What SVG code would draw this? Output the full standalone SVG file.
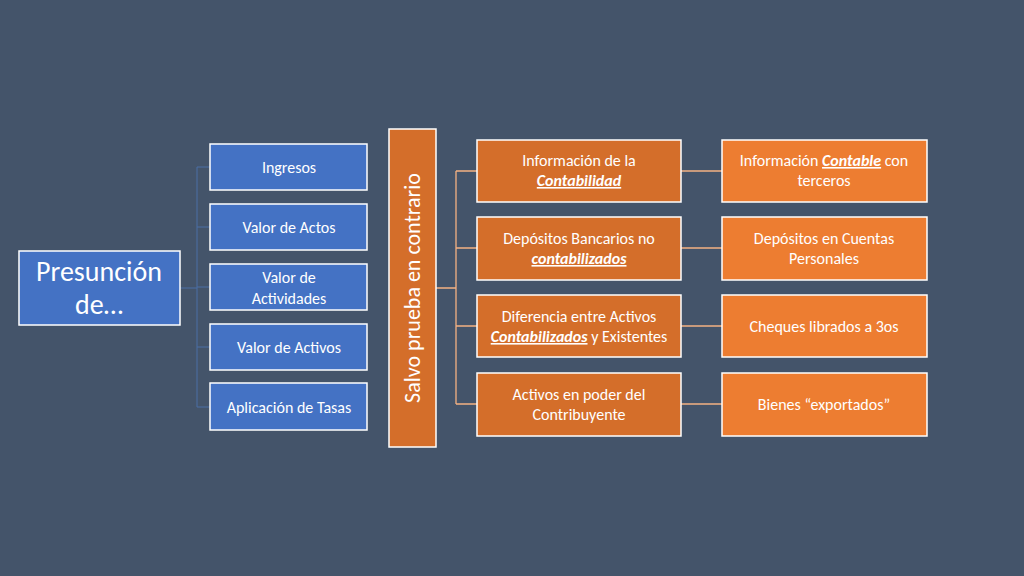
<svg xmlns="http://www.w3.org/2000/svg" width="1024" height="576" viewBox="0 0 1024 576">
<style>
text{font-family:Calibri,"Liberation Sans",sans-serif;fill:#fff;text-anchor:middle}
.b{fill:#4472C4;stroke:#fff;stroke-width:1.5}
.o{fill:#D46E2A;stroke:#fff;stroke-width:1.5}
.o2{fill:#ED7D31;stroke:#fff;stroke-width:1.5}
.s{font-size:16px}
.c{fill:none;stroke:#F4B183;stroke-width:1.3}
.cb{fill:none;stroke:#4A6FA5;stroke-width:1}
.u{font-weight:bold;font-style:italic;text-decoration:underline}
</style>
<rect width="1024" height="576" fill="#44546A"/>
<g id="connectors">
<path class="cb" d="M180 288H197M197 167V407M197 167H210M197 227H210M197 287H210M197 347H210M197 407H210"/>
<path class="c" d="M436 288H456M456 171V404M456 171H477M456 248H477M456 326H477M456 404H477"/>
<path class="c" d="M681 171H722M681 248H722M681 326H722M681 404H722"/>
</g>
<g id="presuncion"><rect class="b" x="19" y="251" width="161" height="74"/><text x="99" y="281" font-size="28">Presunción</text><text x="99" y="314" font-size="28">de…</text></g>
<g id="ingresos"><rect class="b" x="210" y="144" width="157" height="46"/><text class="s" x="289" y="173">Ingresos</text></g>
<g id="actos"><rect class="b" x="210" y="204" width="157" height="46"/><text class="s" x="289" y="233">Valor de Actos</text></g>
<g id="actividades"><rect class="b" x="210" y="264" width="157" height="46"/><text class="s" x="289" y="283">Valor de</text><text class="s" x="289" y="304">Actividades</text></g>
<g id="activos"><rect class="b" x="210" y="324" width="157" height="46"/><text class="s" x="289" y="353">Valor de Activos</text></g>
<g id="tasas"><rect class="b" x="210" y="383" width="157" height="47"/><text class="s" x="289" y="413">Aplicación de Tasas</text></g>
<g id="salvo"><rect class="o" x="389" y="129" width="47" height="318"/><text x="420" y="288" font-size="22" transform="rotate(-90 420 288)" dy="0">Salvo prueba en contrario</text></g>
<g id="n1"><rect class="o" x="477" y="140" width="204" height="62"/><text class="s" x="579" y="166">Información de la</text><text class="s u" x="579" y="186">Contabilidad</text></g>
<g id="n2"><rect class="o" x="477" y="217" width="204" height="63"/><text class="s" x="579" y="244">Depósitos Bancarios no</text><text class="s u" x="579" y="264">contabilizados</text></g>
<g id="n3"><rect class="o" x="477" y="295" width="204" height="62"/><text class="s" x="579" y="322">Diferencia entre Activos</text><text class="s" x="579" y="342"><tspan class="u">Contabilizados</tspan> y Existentes</text></g>
<g id="n4"><rect class="o" x="477" y="373" width="204" height="63"/><text class="s" x="579" y="400">Activos en poder del</text><text class="s" x="579" y="420">Contribuyente</text></g>
<g id="m1"><rect class="o2" x="722" y="140" width="205" height="62"/><text class="s" x="824" y="166">Información <tspan class="u">Contable</tspan> con</text><text class="s" x="824" y="186">terceros</text></g>
<g id="m2"><rect class="o2" x="722" y="217" width="205" height="63"/><text class="s" x="824" y="244">Depósitos en Cuentas</text><text class="s" x="824" y="264">Personales</text></g>
<g id="m3"><rect class="o2" x="722" y="295" width="205" height="62"/><text class="s" x="824" y="332">Cheques librados a 3os</text></g>
<g id="m4"><rect class="o2" x="722" y="373" width="205" height="63"/><text class="s" x="824" y="410">Bienes “exportados”</text></g>
</svg>
